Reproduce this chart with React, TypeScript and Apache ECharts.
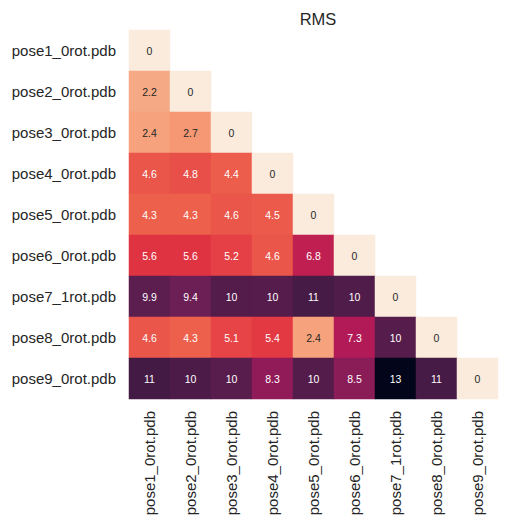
import { useEffect, useRef } from "react";
import * as echarts from "echarts";

const poses = [
  "pose1_0rot.pdb",
  "pose2_0rot.pdb",
  "pose3_0rot.pdb",
  "pose4_0rot.pdb",
  "pose5_0rot.pdb",
  "pose6_0rot.pdb",
  "pose7_1rot.pdb",
  "pose8_0rot.pdb",
  "pose9_0rot.pdb",
];

// lower triangle, row i has i+1 values (estimated; shown with 2 significant digits)
const rmsRows = [
  [0],
  [2.2, 0],
  [2.4, 2.7, 0],
  [4.6, 4.8, 4.4, 0],
  [4.3, 4.3, 4.6, 4.5, 0],
  [5.6, 5.6, 5.2, 4.6, 6.8, 0],
  [9.9, 9.4, 10.2, 10.1, 10.6, 10.3, 0],
  [4.6, 4.3, 5.1, 5.4, 2.4, 7.3, 10.1, 0],
  [10.7, 10.4, 10.0, 8.3, 10.2, 8.5, 13, 10.6, 0],
];

// rocket_r
const rocketR = ["#faebdd", "#f6b48f", "#f37651", "#e13342", "#ad1759", "#701f57", "#35193e", "#03051a"];

const font = "'Liberation Sans', Arial, sans-serif";

export default function App() {
  const chartRef = useRef<HTMLDivElement | null>(null);

  useEffect(() => {
    if (!chartRef.current) return;
    const chart = echarts.init(chartRef.current, null, { renderer: "svg" });

    const cells: any[] = [];
    rmsRows.forEach((row, i) => {
      row.forEach((v, j) => {
        cells.push({
          value: [j, i, v],
          label: { color: v < 3 ? "#262626" : "#ffffff" },
        });
      });
    });

    chart.setOption({
      animation: false,
      backgroundColor: "#ffffff",
      textStyle: { fontFamily: font },
      title: {
        text: "RMS",
        left: 313,
        top: 5,
        textAlign: "center",
        textStyle: { fontSize: 16.5, fontWeight: "normal", color: "#262626", fontFamily: font },
      },
      grid: { left: 129, top: 30, width: 369, height: 369 },
      xAxis: {
        type: "category",
        data: poses,
        axisLine: { show: false },
        axisTick: { show: false },
        splitLine: { show: false },
        axisLabel: { rotate: 90, margin: 12, fontSize: 15, color: "#262626", fontFamily: font },
      },
      yAxis: {
        type: "category",
        data: poses,
        inverse: true,
        axisLine: { show: false },
        axisTick: { show: false },
        splitLine: { show: false },
        axisLabel: { margin: 13, fontSize: 15, color: "#262626", fontFamily: font },
      },
      visualMap: {
        show: false,
        min: 0,
        max: 13,
        dimension: 2,
        inRange: { color: rocketR },
      },
      series: [
        {
          type: "heatmap",
          data: cells,
          itemStyle: { borderWidth: 0 },
          label: {
            show: true,
            fontSize: 10.5,
            fontFamily: font,
            formatter: (p: any) => String(Number(Number(p.value[2]).toPrecision(2))),
          },
          emphasis: { disabled: true },
        },
      ],
    });

    return () => chart.dispose();
  }, []);

  return (
    <div
      ref={chartRef}
      style={{ position: "fixed", left: 0, top: 0, width: 509, height: 529 }}
    />
  );
}
